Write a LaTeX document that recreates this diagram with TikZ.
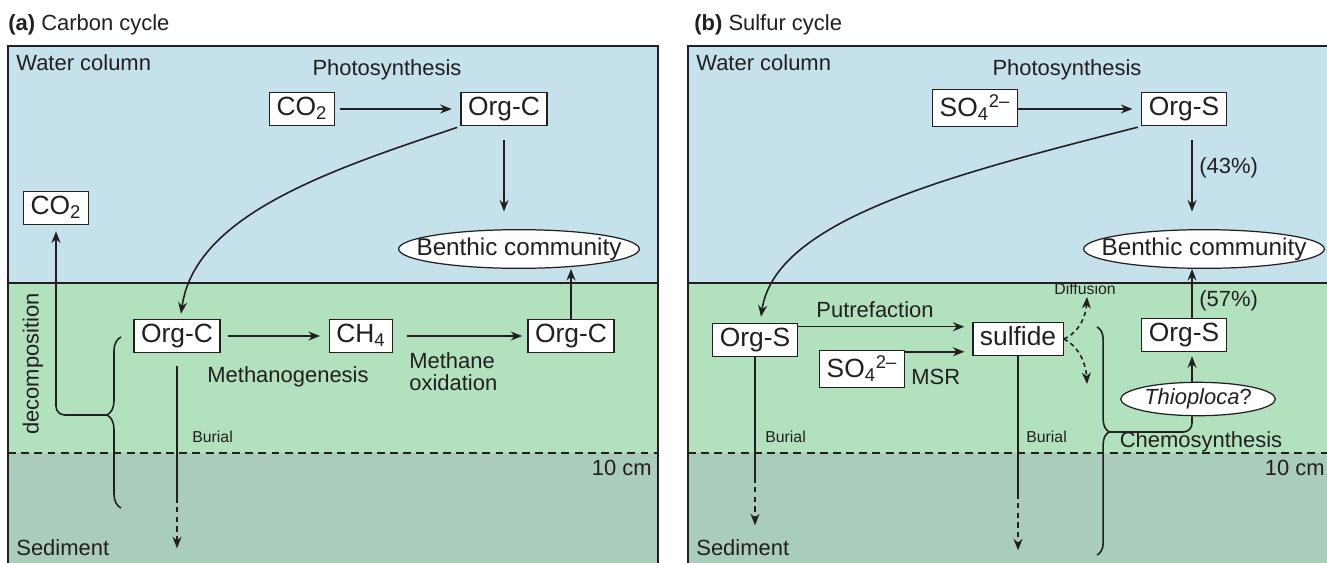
\documentclass[tikz,border=0pt]{standalone}
\usepackage{fontspec}
\setmainfont{Liberation Sans}
\usetikzlibrary{shapes.geometric, arrows.meta, calc, decorations.pathreplacing}

\definecolor{waterblue}{RGB}{196,225,236}
\definecolor{mudgreen}{RGB}{178,225,190}
\definecolor{deepmud}{RGB}{169,204,187}
\definecolor{ink}{RGB}{35,31,32}

\begin{document}
\begin{tikzpicture}[
        x=0.02cm, y=-0.02cm,
        frame/.style={draw=ink, line width=1.4pt},
        layerline/.style={draw=ink, line width=1pt},
        depthline/.style={draw=ink, line width=0.8pt, dash pattern=on 4.5pt off 3pt},
        pooltext/.style={font=\fontsize{15}{17}\selectfont, text=ink},
        pool/.style={pooltext, draw=ink, fill=white, line width=0.7pt, inner xsep=4pt, inner ysep=2.5pt, text height=10.8pt, text depth=3.2pt},
        biota/.style={ellipse, draw=ink, fill=white, line width=0.7pt, inner sep=0pt},
        biotatext/.style={font=\fontsize{13.8}{16}\selectfont, text=ink},
        flux/.style={draw=ink, line width=0.9pt, -{Stealth[length=2.3mm, width=1.8mm]}},
        plain/.style={draw=ink, line width=0.9pt},
        tag/.style={font=\fontsize{12.5}{12.5}\selectfont, text=ink, inner sep=0pt},
        smalltag/.style={font=\fontsize{9}{10}\selectfont, text=ink, inner sep=0pt}
    ]

    \clip (0,0) rectangle (1327,562);
    \fill[white] (0,0) rectangle (1327,562);

    % Layers and frames of both panels
    \foreach \dx/\dm in {0/652,680/1325} {
        \fill[waterblue] ({8+\dx},46) rectangle ({658+\dx},283);
        \fill[mudgreen] ({8+\dx},283) rectangle ({658+\dx},453);
        \fill[deepmud] ({8+\dx},453) rectangle ({658+\dx},570);
        \draw[layerline] ({8+\dx},283) -- ({658+\dx},283);
        \draw[depthline] ({8+\dx},453) -- ({658+\dx},453);
        \draw[frame] ({8+\dx},570) -- ({8+\dx},46) -- ({658+\dx},46) -- ({658+\dx},570);
        \node[tag, anchor=west] (water-\dx) at ({16+\dx},63) {Water column};
        \node[tag] (photo-\dx) at ({387+\dx},70) {Photosynthesis};
        \node[tag, anchor=west] (sediment-\dx) at ({16+\dx},548) {Sediment};
        \node[tag, anchor=east] (depth-\dx) at (\dm,468) {10 cm};
    }

    % (a) Carbon cycle
    \node[tag, anchor=west] (titleA) at (8,25) {\textbf{(a)} Carbon cycle};
    \node[pool] (co2In) at (302,109) {CO\textsubscript{2}};
    \node[pool] (orgCw) at (504,109) {Org-C};
    \node[biota, minimum width=137pt, minimum height=22pt,
          label={[biotatext]center:Benthic community}] (benthA) at (519,249) {};
    \node[pool] (co2Out) at (56,208) {CO\textsubscript{2}};
    \node[pool] (orgCs) at (177,336) {Org-C};
    \node[pool] (ch4) at (361,336) {CH\textsubscript{4}};
    \node[pool] (orgCm) at (571,336) {Org-C};
    \node[tag] (methgen) at (288,377) {Methanogenesis};
    \node[tag, anchor=west, align=left] (methox) at (409,372) {Methane\\oxidation};
    \node[tag, rotate=90] (decomp) at (33,364) {decomposition};
    \node[smalltag, anchor=west] (burA) at (192,437) {Burial};

    \draw[flux, shorten <=3pt, shorten >=5pt] (co2In) -- (orgCw);
    \draw[flux, shorten <=8pt, shorten >=10pt] (orgCw.south) -- (orgCw.south |- benthA.north);
    \draw[flux, shorten <=2pt] (orgCw.south west) .. controls (330,170) and (195,215) .. ($(orgCs.north)+(4,-5)$);
    \draw[flux, shorten <=4pt, shorten >=5pt] (orgCs) -- (ch4);
    \draw[flux, shorten <=8pt, shorten >=3pt] (ch4) -- (orgCm);
    \draw[flux] (orgCm.north) -- (orgCm.north |- benthA.south);
    \draw[plain, shorten <=7pt] (orgCs.south) -- ++(0,144) coordinate (burAend);
    \draw[flux, dash pattern=on 3pt off 2.5pt] (burAend) -- ++(0,51);

    % decomposition brace
    \draw[plain, decorate, decoration={brace, amplitude=8pt, aspect=0.544}] (121,508) -- (121,337);
    \coordinate (decoTip) at (107,415);
    \draw[flux, rounded corners=5pt, shorten >=3.5pt] (decoTip) -| (co2Out.south);

    % (b) Sulfur cycle
    \node[tag, anchor=west] (titleB) at (694,25) {\textbf{(b)} Sulfur cycle};
    \node[pool, text height=13pt] (so4In) at (975,108) {SO\textsubscript{4}\textsuperscript{2–}};
    \node[pool] (orgSw) at (1184,109) {Org-S};
    \node[biota, minimum width=137pt, minimum height=22pt,
          label={[biotatext]center:Benthic community}] (benthB) at (1204,249) {};
    \node[tag, anchor=west] (pct43) at (1199,168) {(43\%)};
    \node[pool] (orgSs) at (755,340) {Org-S};
    \node[tag] (putref) at (875,310) {Putrefaction};
    \node[pool] (sulfide) at (1018,339) {sulfide};
    \node[pool, text height=13pt] (so4Red) at (862,369) {SO\textsubscript{4}\textsuperscript{2–}};
    \node[tag, anchor=west] (msr) at (911,377) {MSR};
    \node[smalltag, anchor=west] (burB) at (765,437) {Burial};
    \node[smalltag, anchor=west] (burC) at (1026,437) {Burial};
    \node[smalltag] (diffuse) at (1085,289) {Diffusion};
    \node[pool] (orgSm) at (1184,335) {Org-S};
    \node[tag, anchor=west] (pct57) at (1199,301) {(57\%)};
    \node[biota, minimum width=88pt, minimum height=19pt,
          label={[tag]center:\textit{Thioploca}?}] (thio) at (1198,399) {};
    \node[tag] (chemo) at (1201,442) {Chemosynthesis};

    \coordinate (riseX) at (1192,0);
    \draw[flux, shorten >=5pt] (so4In.east |- orgSw) -- (orgSw.west);
    \draw[flux, shorten <=8pt, shorten >=10pt] (orgSw.south -| riseX) -- (riseX |- benthB.north);
    \draw[flux, shorten <=2pt] (orgSw.south west) .. controls (950,175) and (775,220) .. ($(orgSs.north)+(6,-6)$);
    \coordinate (putA) at ($(orgSs.north east)+(0,4)$);
    \draw[flux, shorten >=4.5pt] (putA) -- (putA -| sulfide.west);
    \coordinate (msrA) at ($(so4Red.north east)+(0,2)$);
    \draw[flux, shorten >=4.5pt] (msrA) -- (msrA -| sulfide.west);
    \draw[plain] (orgSs.south) -- ++(0,120) coordinate (burBend);
    \draw[flux, dash pattern=on 3pt off 2.5pt] (burBend) -- ++(0,48);
    \draw[plain] (sulfide.south) -- ++(0,137) coordinate (burCend);
    \draw[flux, dash pattern=on 3pt off 2.5pt] (burCend) -- ++(0,57);
    \draw[flux, dash pattern=on 2.5pt off 2pt] (sulfide.east) .. controls (1080,332) and (1086,315) .. (1087,297);
    \draw[flux, dash pattern=on 2.5pt off 2pt] (sulfide.east) .. controls (1080,347) and (1086,365) .. (1087,384);

    % chemosynthesis brace
    \draw[plain, decorate, decoration={brace, amplitude=7pt, aspect=0.46}] (1097,327) -- (1097,555);
    \coordinate (chemTip) at (1109,432);
    \draw[plain, rounded corners=5pt] (chemTip) -| (thio.south -| riseX);
    \draw[flux, shorten >=2.3pt] (thio.north -| riseX) -- (orgSm.south -| riseX);
    \draw[flux] (orgSm.north -| riseX) -- (riseX |- benthB.south);

\end{tikzpicture}
\end{document}
